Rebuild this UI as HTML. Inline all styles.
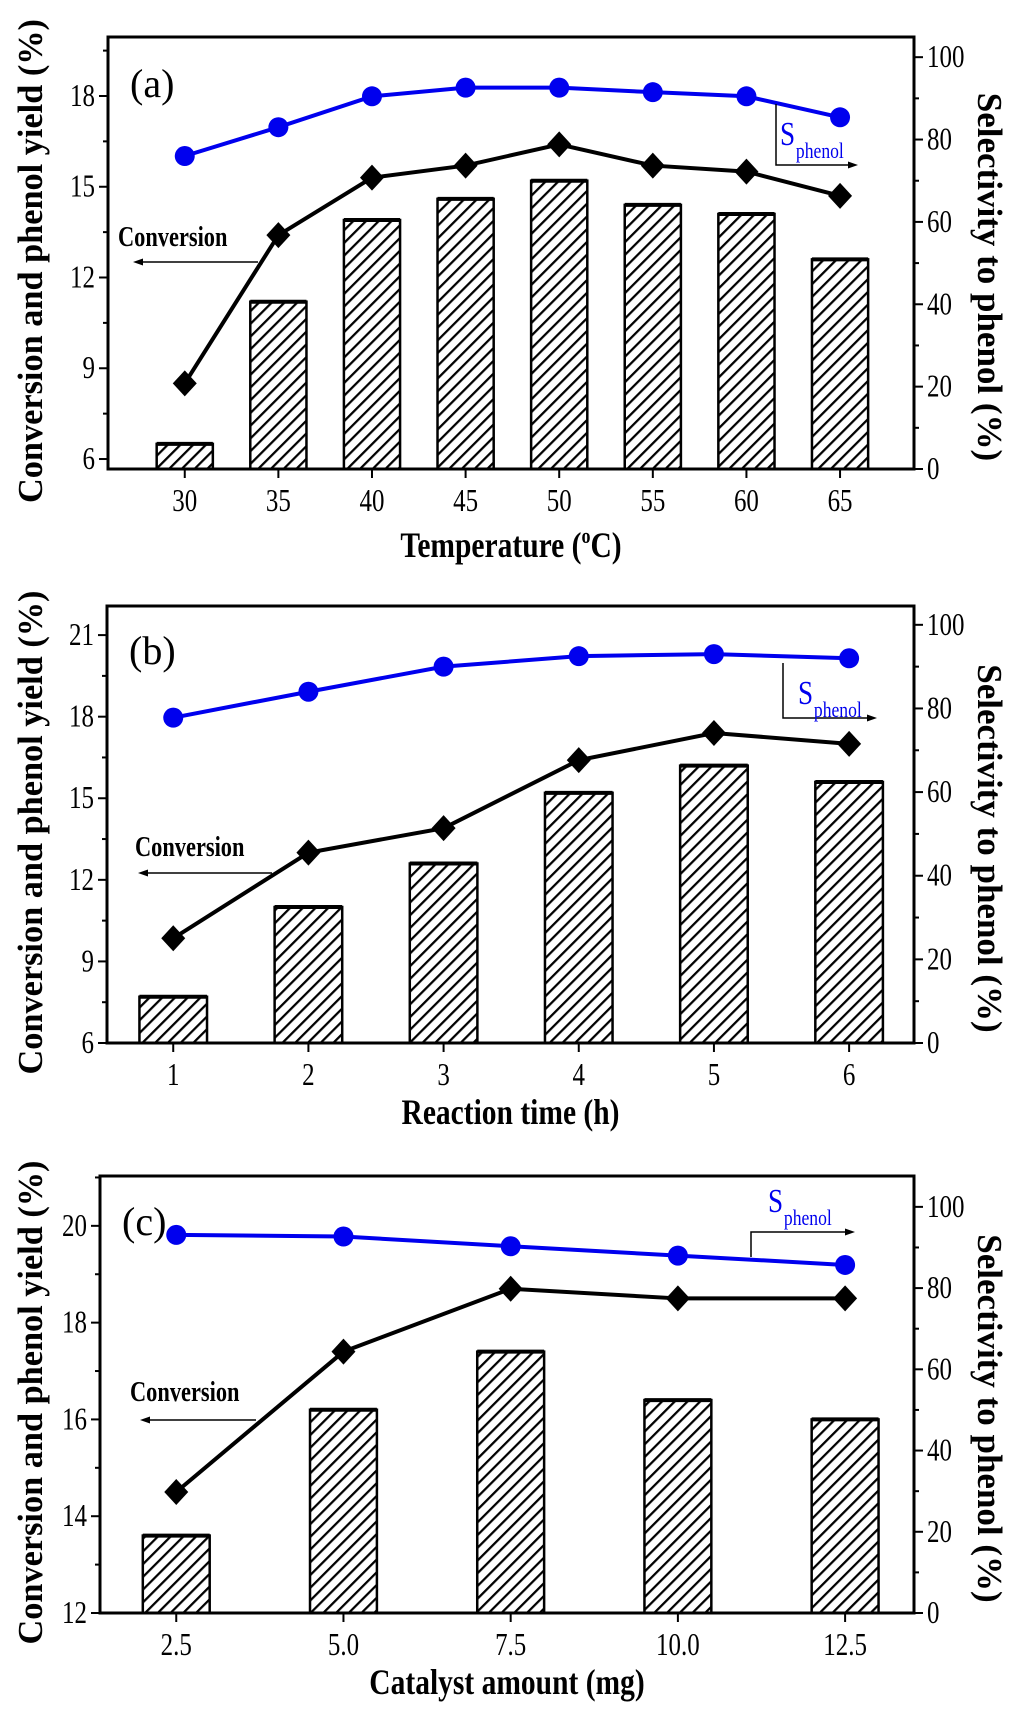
<!DOCTYPE html>
<html><head><meta charset="utf-8"><style>
html,body{margin:0;padding:0;background:#fff}
svg{display:block;font-family:"Liberation Serif",serif}
</style></head><body>
<svg id="chart" width="1024" height="1709" viewBox="0 0 1024 1709" xmlns="http://www.w3.org/2000/svg">
<defs>
<pattern id="hatch" patternUnits="userSpaceOnUse" width="9" height="9" patternTransform="rotate(45)">
<rect width="9" height="9" fill="#fff"/><line x1="0" y1="0" x2="0" y2="9" stroke="#000" stroke-width="4.5"/>
</pattern>
</defs>
</svg>
<script>
// Panel (a)
const catA = [30,35,40,45,50,55,60,65];
const yieldA = [6.5,11.2,13.9,14.6,15.2,14.4,14.1,12.6];
const convA = [8.5,13.4,15.3,15.7,16.4,15.7,15.5,14.7];
const selA = [76,83,90.5,92.6,92.6,91.5,90.5,85.4];
const xticksA = ["30","35","40","45","50","55","60","65"];
const yticksA = [6,9,12,15,18];
// Panel (b)
const catB = [1,2,3,4,5,6];
const yieldB = [7.7,11.0,12.6,15.2,16.2,15.6];
const convB = [9.85,13.0,13.9,16.4,17.4,17.0];
const selB = [77.8,84,90,92.5,93,92];
const xticksB = ["1","2","3","4","5","6"];
const yticksB = [6,9,12,15,18,21];
// Panel (c)
const catC = [2.5,5.0,7.5,10.0,12.5];
const yieldC = [13.6,16.2,17.4,16.4,16.0];
const convC = [14.5,17.4,18.7,18.5,18.5];
const selC = [93.1,92.7,90.3,88,85.7];
const xticksC = ["2.5","5.0","7.5","10.0","12.5"];
const yticksC = [12,14,16,18,20];
const rticks = [0,20,40,60,80,100];

const svg = document.getElementById('chart');
const NS = 'http://www.w3.org/2000/svg';
function mk(tag, attrs, parent, text){
  const e = document.createElementNS(NS, tag);
  for (const k in attrs) e.setAttribute(k, attrs[k]);
  if (text !== undefined) e.textContent = text;
  (parent||svg).appendChild(e);
  return e;
}

function panel(cfg){
  const g = mk('g', {});
  
  
  const L=cfg.L,R=cfg.R,T=cfg.T,B=cfg.B;
  const sx = v => L + (v-cfg.x0)/(cfg.x1-cfg.x0)*(R-L);
  const sy = v => B - (v-cfg.y0)/(cfg.y1-cfg.y0)*(B-T);
  const sr = v => B - (v-cfg.r0)/(cfg.r1-cfg.r0)*(B-T);
  cfg.cats.forEach((c,i)=>{
    const x0 = sx(c - cfg.bw/2), x1 = sx(c + cfg.bw/2);
    const y = sy(cfg.bars[i]);
    const b = mk('rect', {x:x0, y:y, width:x1-x0, height:B-y, fill:'url(#hatch)', stroke:'#000', 'stroke-width':2.5}, g);
    
    
    mk('line',{x1:x0,y1:y,x2:x1,y2:y,stroke:'#000','stroke-width':4},g);
  });
  const fr = mk('rect',{x:L,y:T,width:R-L,height:B-T,fill:'none',stroke:'#000','stroke-width':3},g);
  
  
  cfg.cats.forEach((c,i)=>{
    const x=sx(c);
    mk('line',{x1:x,y1:B,x2:x,y2:B+9,stroke:'#000','stroke-width':2},g);
    const t = mk('text',{x:x,y:B+42,'text-anchor':'middle','font-size':32,transform:`translate(${x},0) scale(0.78,1) translate(${-x},0)`},g,cfg.xt[i]);
    
    
  });
  const step = cfg.yt[1]-cfg.yt[0];
  cfg.yt.forEach(v=>{
    const y=sy(v);
    mk('line',{x1:L-9,y1:y,x2:L,y2:y,stroke:'#000','stroke-width':2},g);
    const m=sy(v+step/2);
    if (m>T) mk('line',{x1:L-5,y1:m,x2:L,y2:m,stroke:'#000','stroke-width':2},g);
    const t = mk('text',{x:L-13,y:y+10,'text-anchor':'end','font-size':32,transform:`translate(${L-13},0) scale(0.78,1) translate(${-(L-13)},0)`},g,String(v));
    
    
  });
  rticks.forEach(v=>{
    const y=sr(v);
    mk('line',{x1:R,y1:y,x2:R+9,y2:y,stroke:'#000','stroke-width':2},g);
    const m=sr(v+10);
    if (m>T) mk('line',{x1:R,y1:m,x2:R+5,y2:m,stroke:'#000','stroke-width':2},g);
    const t = mk('text',{x:R+13,y:y+10,'text-anchor':'start','font-size':32,transform:`translate(${R+13},0) scale(0.78,1) translate(${-(R+13)},0)`},g,String(v));
    
    
  });
  const cp = cfg.cats.map((c,i)=>sx(c)+','+sy(cfg.conv[i])).join(' ');
  const cl = mk('polyline',{points:cp,fill:'none',stroke:'#000','stroke-width':4},g);
  
  
  cfg.cats.forEach((c,i)=>{
    const x=sx(c),y=sy(cfg.conv[i]),d=13;
    const p = mk('polygon',{points:`${x},${y-d} ${x+d-1},${y} ${x},${y+d} ${x-d+1},${y}`,fill:'#000'},g);
    
    
  });
  const sp = cfg.cats.map((c,i)=>sx(c)+','+sr(cfg.sel[i])).join(' ');
  const sl = mk('polyline',{points:sp,fill:'none',stroke:'#0000ee','stroke-width':4},g);
  
  
  cfg.cats.forEach((c,i)=>{
    const p = mk('circle',{cx:sx(c),cy:sr(cfg.sel[i]),r:10,fill:'#0000ee'},g);
    
    
  });
  const pl = mk('text',{x:L+22,y:cfg.ly,'font-size':40},g,'('+cfg.id+')');
  
  
  const ca = cfg.conva;
  const ct = mk('text',{x:ca.tx,y:ca.ty,'font-size':28,'font-weight':'bold',transform:`translate(${ca.tx},0) scale(0.8,1) translate(${-ca.tx},0)`},g,'Conversion');
  
  
  mk('line',{x1:ca.x2,y1:ca.ay,x2:ca.x1+8,y2:ca.ay,stroke:'#000','stroke-width':1.5},g);
  mk('polygon',{points:`${ca.x1},${ca.ay} ${ca.x1+10},${ca.ay-3.5} ${ca.x1+10},${ca.ay+3.5}`,fill:'#000'},g);
  const s = cfg.sa;
  mk('polyline',{points:`${s.vx},${s.vy1} ${s.vx},${s.vy2} ${s.ax-8},${s.vy2}`,fill:'none',stroke:'#000','stroke-width':1.5},g);
  mk('polygon',{points:`${s.ax},${s.vy2} ${s.ax-10},${s.vy2-3.5} ${s.ax-10},${s.vy2+3.5}`,fill:'#000'},g);
  const st = mk('text',{x:s.tx,y:s.ty,'font-size':34,fill:'#0000ee',transform:`translate(${s.tx},0) scale(0.8,1) translate(${-s.tx},0)`},g);
  
  
  st.textContent='S';
  mk('tspan',{'font-size':22,dy:13,dx:1},st,'phenol');
  const xt = mk('text',{x:(L+R)/2,y:cfg.xty,'text-anchor':'middle','font-size':36,'font-weight':'bold',transform:`translate(${(L+R)/2},0) scale(0.82,1) translate(${-(L+R)/2},0)`},g);
  
  
  if (cfg.id==='a'){ xt.textContent='Temperature ('; mk('tspan',{'font-size':22,dy:-14},xt,'o'); mk('tspan',{dy:14},xt,'C)'); }
  else xt.textContent = cfg.xtitle;
  const cy=(T+B)/2;
  const lt = mk('text',{x:0,y:0,'text-anchor':'middle','font-size':35,'font-weight':'bold',transform:`translate(42,${cy+8}) rotate(-90) scale(0.98,1)`},g,'Conversion and phenol yield (%)');
  
  
  const rt = mk('text',{x:0,y:0,'text-anchor':'middle','font-size':35,'font-weight':'bold',transform:`translate(978,${cy+24}) rotate(90) scale(1.0,1)`},g,'Selectivity to phenol (%)');
  
  
}

panel({id:'a',L:108,R:914,T:37,B:469,x0:25.9,x1:68.95,y0:5.67,y1:19.95,r0:0,r1:104.9,bw:3.0,
  cats:catA,bars:yieldA,conv:convA,sel:selA,xt:xticksA,yt:yticksA,ly:97,xty:557,
  conva:{tx:118,ty:246,x1:133,x2:258,ay:262},sa:{vx:776,vy1:104,vy2:165,ax:858,tx:780,ty:145}});
panel({id:'b',L:107,R:914,T:606,B:1043,x0:0.51,x1:6.48,y0:6,y1:22.07,r0:0,r1:104.5,bw:0.5,xtitle:'Reaction time (h)',
  cats:catB,bars:yieldB,conv:convB,sel:selB,xt:xticksB,yt:yticksB,ly:664,xty:1124,
  conva:{tx:135,ty:856,x1:138,x2:272,ay:873},sa:{vx:783,vy1:663,vy2:718,ax:877,tx:798,ty:704}});
panel({id:'c',L:100,R:914,T:1176,B:1613,x0:1.36,x1:13.53,y0:12,y1:21.03,r0:0,r1:107.6,bw:1.0,xtitle:'Catalyst amount (mg)',
  cats:catC,bars:yieldC,conv:convC,sel:selC,xt:xticksC,yt:yticksC,ly:1235,xty:1694,
  conva:{tx:130,ty:1401,x1:140,x2:256,ay:1420},sa:{vx:751,vy1:1257,vy2:1232,ax:855,tx:768,ty:1212}});
</script>
</body></html>
